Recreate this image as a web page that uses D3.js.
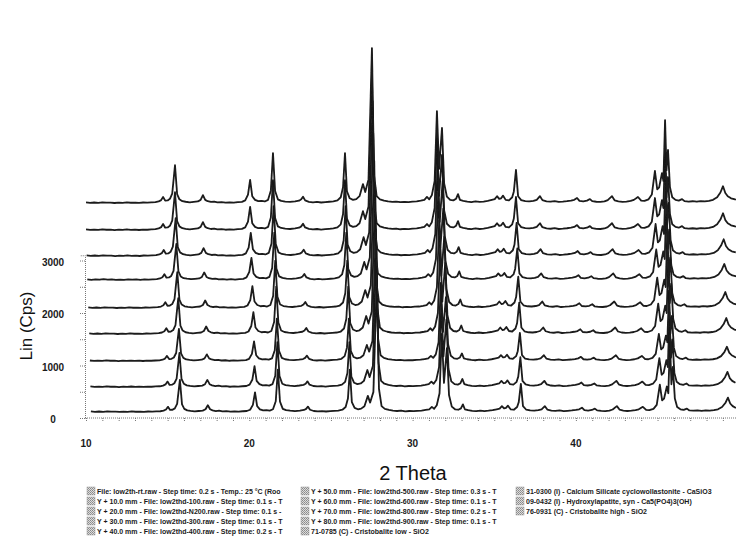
<!DOCTYPE html>
<html>
<head>
<meta charset="utf-8">
<script src="https://cdn.jsdelivr.net/npm/d3@7"></script>
<style>
  body { margin: 0; background: #fff; }
  text { font-family: "Liberation Sans", Arial, sans-serif; }
</style>
</head>
<body>
<div id="chart"></div>
<script>
// Top scan: [2theta, counts above its own background]
const scanPoints = [
  [10.0, 12], [10.25, 2], [10.5, 10], [10.75, 4], [11.0, 14], [11.25, 6], [11.5, 9], [11.75, 0],
  [12.0, 8], [12.25, 3], [12.5, 11], [12.75, 5], [13.0, 9], [13.25, 1], [13.5, 10], [13.75, 6],
  [14.0, 12], [14.25, 16], [14.45, 30], [14.6, 55], [14.72, 115], [14.85, 45], [15.0, 50], [15.14, 80],
  [15.28, 180], [15.45, 720], [15.58, 170], [15.72, 70], [15.9, 35], [16.1, 24], [16.35, 14], [16.6, 22],
  [16.85, 30], [17.02, 60], [17.16, 150], [17.3, 60], [17.45, 35], [17.65, 20], [17.85, 28], [18.05, 12],
  [18.3, 18], [18.55, 6], [18.8, 14], [19.05, 8], [19.3, 16], [19.55, 22], [19.75, 50], [19.92, 160],
  [20.05, 440], [20.18, 130], [20.35, 60], [20.55, 35], [20.75, 42], [20.95, 30], [21.15, 60], [21.32, 240],
  [21.45, 950], [21.58, 230], [21.75, 70], [21.95, 40], [22.2, 28], [22.5, 20], [22.8, 32], [23.05, 45],
  [23.18, 70], [23.29, 120], [23.42, 50], [23.65, 22], [23.9, 12], [24.15, 20], [24.4, 10], [24.65, 18],
  [24.9, 24], [25.15, 30], [25.4, 50], [25.6, 110], [25.74, 300], [25.86, 950], [25.98, 220], [26.15, 90],
  [26.35, 60], [26.55, 75], [26.75, 130], [26.96, 360], [27.1, 210], [27.3, 450], [27.51, 2950], [27.64, 520],
  [27.8, 130], [28.0, 70], [28.25, 45], [28.5, 30], [28.75, 22], [29.0, 28], [29.25, 15], [29.5, 22],
  [29.75, 18], [30.0, 26], [30.25, 30], [30.5, 45], [30.72, 60], [30.88, 115], [31.02, 70], [31.18, 150],
  [31.35, 420], [31.49, 1750], [31.62, 650], [31.8, 1430], [31.93, 380], [32.1, 120], [32.3, 60], [32.5, 50],
  [32.66, 80], [32.78, 170], [32.9, 60], [33.1, 40], [33.35, 25], [33.6, 18], [33.85, 30], [34.1, 20],
  [34.35, 28], [34.6, 40], [34.85, 60], [35.03, 75], [35.17, 130], [35.3, 80], [35.42, 90], [35.54, 140],
  [35.7, 60], [35.9, 50], [36.1, 110], [36.2, 220], [36.33, 630], [36.46, 130], [36.65, 55], [36.9, 35],
  [37.15, 30], [37.4, 40], [37.6, 60], [37.8, 130], [37.95, 55], [38.2, 32], [38.45, 25], [38.7, 36],
  [38.95, 20], [39.2, 26], [39.45, 34], [39.7, 45], [39.9, 60], [40.07, 95], [40.22, 40], [40.45, 32],
  [40.68, 45], [40.86, 75], [41.0, 35], [41.25, 24], [41.5, 20], [41.75, 30], [41.95, 55], [42.21, 130],
  [42.38, 50], [42.6, 30], [42.85, 22], [43.1, 28], [43.35, 40], [43.55, 60], [43.8, 115], [44.0, 45],
  [44.2, 40], [44.45, 70], [44.65, 160], [44.84, 610], [44.98, 260], [45.1, 300], [45.27, 570], [45.36, 420],
  [45.46, 1580], [45.55, 620], [45.64, 1010], [45.76, 300], [45.9, 110], [46.1, 60], [46.3, 45], [46.5, 75],
  [46.65, 35], [46.9, 28], [47.15, 34], [47.4, 25], [47.65, 36], [47.9, 30], [48.15, 40], [48.4, 60],
  [48.65, 110], [48.85, 200], [49.01, 320], [49.15, 190], [49.3, 130], [49.5, 90], [49.75, 70], [50.0, 60]
];

// Background level of each scan on the plot (cps), bottom = room temperature
const traceLevel = [115, 590, 1085, 1600, 2095, 2630, 3085, 3580, 4095];
// Peak shift of each scan against the top one (deg 2theta)
const traceShift = [0.30, 0.27, 0.24, 0.20, 0.14, 0.08, 0.04, 0.0, 0.0];
// Relative peak strength of each scan
const traceScale = [0.85, 0.9, 0.85, 0.95, 0.95, 0.95, 1.0, 1.0, 1.0];

const xTicks = [10, 20, 30, 40];
const yTicks = [0, 1000, 2000, 3000];

const legendCol1 = [
  "File: low2th-rt.raw - Step time: 0.2 s - Temp.: 25 °C (Roo",
  "Y + 10.0 mm - File: low2thd-100.raw - Step time: 0.1 s - T",
  "Y + 20.0 mm - File: low2thd-N200.raw - Step time: 0.1 s -",
  "Y + 30.0 mm - File: low2thd-300.raw - Step time: 0.1 s - T",
  "Y + 40.0 mm - File: low2thd-400.raw - Step time: 0.2 s - T"
];
const legendCol2 = [
  "Y + 50.0 mm - File: low2thd-500.raw - Step time: 0.3 s - T",
  "Y + 60.0 mm - File: low2thd-600.raw - Step time: 0.1 s - T",
  "Y + 70.0 mm - File: low2thd-800.raw - Step time: 0.2 s - T",
  "Y + 80.0 mm - File: low2thd-900.raw - Step time: 0.1 s - T",
  "71-0785 (C) - Cristobalite low - SiO2"
];
const legendCol3 = [
  "31-0300 (I) - Calcium Silicate cyclowollastonite - CaSiO3",
  "09-0432 (I) - Hydroxylapatite, syn - Ca5(PO4)3(OH)",
  "76-0931 (C) - Cristobalite high - SiO2"
];

const W = 736, H = 539;

const svg = d3.select("#chart")
  .append("svg")
    .attr("width", W)
    .attr("height", H);

const defs = svg.append("defs");
defs.append("filter")
    .attr("id", "soft")
  .append("feGaussianBlur")
    .attr("stdDeviation", 0.4);

const pat = defs.append("pattern")
    .attr("id", "hatch")
    .attr("width", 2)
    .attr("height", 2)
    .attr("patternUnits", "userSpaceOnUse");
pat.append("rect").attr("width", 2).attr("height", 2).attr("fill", "#ddd");
pat.append("rect").attr("width", 1).attr("height", 1).attr("fill", "#888");
pat.append("rect").attr("x", 1).attr("y", 1).attr("width", 1).attr("height", 1).attr("fill", "#999");

// Scales
const x = d3.scaleLinear().domain([10, 50]).range([86, 86 + 40 * 16.33]);
const y = d3.scaleLinear().domain([0, 3000]).range([418, 260.5]);

// Y axis (dotted, only up to ~3100 cps)
const yAxis = svg.append("g").attr("transform", "translate(85,0)");
yAxis.call(d3.axisLeft(y.copy().domain([0, 3100]).range([418, y(3100)]))
    .tickValues(d3.range(0, 3001, 500)).tickSize(5).tickFormat(""));
yAxis.selectAll("path, line")
    .attr("stroke", "#777")
    .attr("stroke-dasharray", "1,1");

svg.append("g").selectAll("text")
  .data(yTicks)
  .join("text")
    .attr("x", 53)
    .attr("y", d => y(d))
    .attr("dy", "0.5em")
    .attr("text-anchor", "middle")
    .attr("font-size", 10)
    .attr("font-weight", "bold")
    .attr("fill", "#1a1a1a")
    .text(d => d);

// X axis
const xAxis = svg.append("g").attr("transform", "translate(0,418)");
xAxis.call(d3.axisBottom(x).tickValues(d3.range(10, 50, 1)).tickSize(3).tickFormat(""));
xAxis.selectAll("path, line")
    .attr("stroke", "#777")
    .attr("stroke-dasharray", "1,1");
xAxis.select(".domain").attr("d", `M85,0H${W}`);

svg.append("g").selectAll("text")
  .data(xTicks)
  .join("text")
    .attr("x", d => x(d))
    .attr("y", 447)
    .attr("text-anchor", "middle")
    .attr("font-size", 10)
    .attr("font-weight", "bold")
    .attr("fill", "#1a1a1a")
    .text(d => d);

// Axis titles
svg.append("text")
    .attr("x", 413)
    .attr("y", 480)
    .attr("text-anchor", "middle")
    .attr("font-size", 20)
    .attr("fill", "#111")
    .text("2 Theta");

svg.append("text")
    .attr("transform", "translate(32,326) rotate(-90)")
    .attr("text-anchor", "middle")
    .attr("font-size", 17)
    .attr("fill", "#111")
    .text("Lin (Cps)");

// Scans, bottom first
const line = d3.line()
    .x(d => x(d[0]))
    .y(d => y(d[1]));

const scans = traceLevel.map((lvl, i) =>
  scanPoints.map(p => [p[0] + traceShift[i], lvl + p[1] * traceScale[i]])
    .filter(p => p[0] >= 10 && p[0] <= 50)
);

svg.append("g")
    .attr("filter", "url(#soft)")
  .selectAll("path")
  .data(scans)
  .join("path")
    .attr("d", line)
    .attr("fill", "none")
    .attr("stroke", "#1a1a1a")
    .attr("stroke-width", 1.8)
    .attr("stroke-linejoin", "round");

// Legend
function legendColumn(items, x0) {
  const g = svg.append("g");
  items.forEach((t, i) => {
    const yy = 493 + i * 10;
    g.append("rect")
        .attr("x", x0)
        .attr("y", yy - 6)
        .attr("width", 8)
        .attr("height", 8)
        .attr("fill", "url(#hatch)")
        .attr("stroke", "#999")
        .attr("stroke-width", 0.5);
    g.append("text")
        .attr("x", x0 + 10)
        .attr("y", yy + 1)
        .attr("font-size", 7)
        .attr("font-weight", "bold")
        .attr("fill", "#1a1a1a")
        .text(t);
  });
}
legendColumn(legendCol1, 87);
legendColumn(legendCol2, 301);
legendColumn(legendCol3, 516);
</script>
</body>
</html>
